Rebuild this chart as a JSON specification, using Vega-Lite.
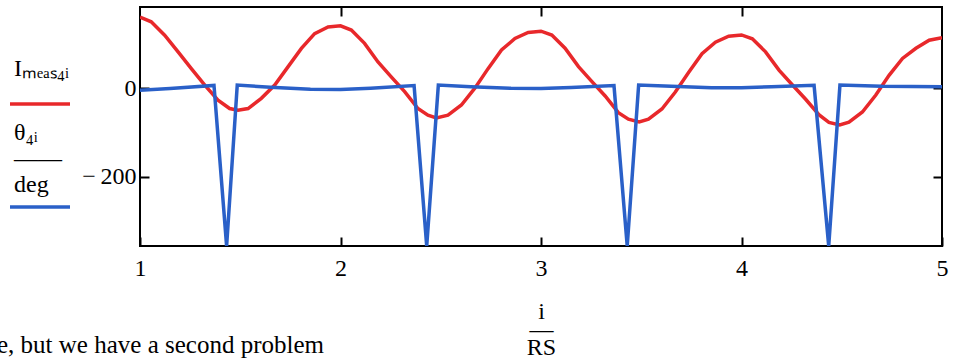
{
  "$schema": "https://vega.github.io/schema/vega-lite/v6.json",
  "width": 802,
  "height": 239,
  "autosize": {"type": "none"},
  "padding": {"left": 140, "top": 7, "right": 11, "bottom": 114},
  "background": "white",
  "config": {
    "view": {"stroke": "black", "strokeWidth": 2},
    "font": "Liberation Serif"
  },
  "title": {
    "text": "e, but we have a second problem",
    "orient": "bottom",
    "anchor": "start",
    "frame": "group",
    "dx": -143,
    "dy": -26,
    "offset": 0,
    "font": "Liberation Serif",
    "fontSize": 25,
    "fontWeight": "normal",
    "color": "black"
  },
  "data": {
    "values": [
      {"x": 1.0, "v": 160, "s": "Imeas4"},
      {"x": 1.056, "v": 149.5, "s": "Imeas4"},
      {"x": 1.123, "v": 119.5, "s": "Imeas4"},
      {"x": 1.19, "v": 82, "s": "Imeas4"},
      {"x": 1.256, "v": 44, "s": "Imeas4"},
      {"x": 1.323, "v": 7, "s": "Imeas4"},
      {"x": 1.389, "v": -27, "s": "Imeas4"},
      {"x": 1.447, "v": -46, "s": "Imeas4"},
      {"x": 1.489, "v": -50, "s": "Imeas4"},
      {"x": 1.539, "v": -46, "s": "Imeas4"},
      {"x": 1.605, "v": -23, "s": "Imeas4"},
      {"x": 1.672, "v": 7, "s": "Imeas4"},
      {"x": 1.738, "v": 48, "s": "Imeas4"},
      {"x": 1.805, "v": 89.5, "s": "Imeas4"},
      {"x": 1.871, "v": 123, "s": "Imeas4"},
      {"x": 1.938, "v": 138, "s": "Imeas4"},
      {"x": 2.0, "v": 140.5, "s": "Imeas4"},
      {"x": 2.054, "v": 131, "s": "Imeas4"},
      {"x": 2.12, "v": 101, "s": "Imeas4"},
      {"x": 2.187, "v": 59, "s": "Imeas4"},
      {"x": 2.253, "v": 25.5, "s": "Imeas4"},
      {"x": 2.32, "v": -8, "s": "Imeas4"},
      {"x": 2.386, "v": -46, "s": "Imeas4"},
      {"x": 2.436, "v": -61, "s": "Imeas4"},
      {"x": 2.478, "v": -67, "s": "Imeas4"},
      {"x": 2.536, "v": -61, "s": "Imeas4"},
      {"x": 2.603, "v": -38, "s": "Imeas4"},
      {"x": 2.67, "v": 0, "s": "Imeas4"},
      {"x": 2.736, "v": 44, "s": "Imeas4"},
      {"x": 2.803, "v": 86, "s": "Imeas4"},
      {"x": 2.87, "v": 112, "s": "Imeas4"},
      {"x": 2.936, "v": 125.5, "s": "Imeas4"},
      {"x": 3.0, "v": 128.5, "s": "Imeas4"},
      {"x": 3.054, "v": 119.7, "s": "Imeas4"},
      {"x": 3.12, "v": 90, "s": "Imeas4"},
      {"x": 3.187, "v": 48.5, "s": "Imeas4"},
      {"x": 3.253, "v": 15.4, "s": "Imeas4"},
      {"x": 3.32, "v": -17.7, "s": "Imeas4"},
      {"x": 3.386, "v": -55.3, "s": "Imeas4"},
      {"x": 3.436, "v": -70, "s": "Imeas4"},
      {"x": 3.49, "v": -76, "s": "Imeas4"},
      {"x": 3.536, "v": -70, "s": "Imeas4"},
      {"x": 3.603, "v": -47, "s": "Imeas4"},
      {"x": 3.67, "v": -8.8, "s": "Imeas4"},
      {"x": 3.736, "v": 35.3, "s": "Imeas4"},
      {"x": 3.803, "v": 77.5, "s": "Imeas4"},
      {"x": 3.87, "v": 103.5, "s": "Imeas4"},
      {"x": 3.936, "v": 117, "s": "Imeas4"},
      {"x": 4.0, "v": 120, "s": "Imeas4"},
      {"x": 4.054, "v": 111.3, "s": "Imeas4"},
      {"x": 4.12, "v": 81.8, "s": "Imeas4"},
      {"x": 4.187, "v": 40.6, "s": "Imeas4"},
      {"x": 4.253, "v": 7.7, "s": "Imeas4"},
      {"x": 4.32, "v": -25.1, "s": "Imeas4"},
      {"x": 4.386, "v": -60, "s": "Imeas4"},
      {"x": 4.436, "v": -77.1, "s": "Imeas4"},
      {"x": 4.49, "v": -83, "s": "Imeas4"},
      {"x": 4.536, "v": -76.9, "s": "Imeas4"},
      {"x": 4.603, "v": -53.8, "s": "Imeas4"},
      {"x": 4.67, "v": -15.4, "s": "Imeas4"},
      {"x": 4.736, "v": 28.9, "s": "Imeas4"},
      {"x": 4.803, "v": 67, "s": "Imeas4"},
      {"x": 4.87, "v": 90, "s": "Imeas4"},
      {"x": 4.936, "v": 108, "s": "Imeas4"},
      {"x": 5.0, "v": 114, "s": "Imeas4"},
      {"x": 1.0, "v": -4.5, "s": "theta4"},
      {"x": 1.15, "v": -1, "s": "theta4"},
      {"x": 1.369, "v": 6, "s": "theta4"},
      {"x": 1.432, "v": -356, "s": "theta4"},
      {"x": 1.485, "v": 7, "s": "theta4"},
      {"x": 1.65, "v": 2, "s": "theta4"},
      {"x": 1.85, "v": -2.5, "s": "theta4"},
      {"x": 2.0, "v": -3, "s": "theta4"},
      {"x": 2.15, "v": 0, "s": "theta4"},
      {"x": 2.367, "v": 6, "s": "theta4"},
      {"x": 2.43, "v": -356, "s": "theta4"},
      {"x": 2.488, "v": 7, "s": "theta4"},
      {"x": 2.65, "v": 3, "s": "theta4"},
      {"x": 2.85, "v": -0.5, "s": "theta4"},
      {"x": 3.0, "v": -1, "s": "theta4"},
      {"x": 3.15, "v": 1.5, "s": "theta4"},
      {"x": 3.364, "v": 6, "s": "theta4"},
      {"x": 3.43, "v": -356, "s": "theta4"},
      {"x": 3.487, "v": 7, "s": "theta4"},
      {"x": 3.65, "v": 4, "s": "theta4"},
      {"x": 3.85, "v": 1, "s": "theta4"},
      {"x": 4.0, "v": 1, "s": "theta4"},
      {"x": 4.15, "v": 3, "s": "theta4"},
      {"x": 4.362, "v": 6.5, "s": "theta4"},
      {"x": 4.435, "v": -356, "s": "theta4"},
      {"x": 4.491, "v": 7, "s": "theta4"},
      {"x": 4.7, "v": 4, "s": "theta4"},
      {"x": 5.0, "v": 3, "s": "theta4"}
    ]
  },
  "layer": [
    {
      "transform": [{"filter": "datum.s == 'Imeas4'"}],
      "mark": {"type": "line", "strokeWidth": 3.5, "clip": true},
      "encoding": {
        "x": {
          "field": "x", "type": "quantitative",
          "scale": {"domain": [1, 5], "nice": false, "zero": false},
          "axis": {
            "orient": "bottom",
            "values": [1, 2, 3, 4, 5],
            "domain": false, "grid": false,
            "tickSize": -9, "tickColor": "black", "tickWidth": 2,
            "labelFont": "Liberation Serif", "labelFontSize": 24, "labelColor": "black",
            "labelPadding": 19, "labelFlush": false, "labelOverlap": false,
            "title": ["i", "―", "RS"],
            "titleFont": "Liberation Serif", "titleFontSize": 24, "titleFontWeight": "normal",
            "titleColor": "black", "titleLineHeight": 18, "titlePadding": 19
          }
        },
        "y": {
          "field": "v", "type": "quantitative",
          "scale": {"domain": [-356, 183], "nice": false, "zero": false},
          "axis": {
            "orient": "left",
            "values": [0, -200],
            "domain": false, "grid": false,
            "tickSize": -9, "tickColor": "black", "tickWidth": 2,
            "labelFont": "Liberation Serif", "labelFontSize": 24, "labelColor": "black",
            "labelPadding": 13, "labelFlush": false, "labelOverlap": false,
            "labelExpr": "datum.value < 0 ? '−\u2009' + abs(datum.value) : datum.label",
            "title": null
          }
        },
        "color": {
          "field": "s", "type": "nominal",
          "scale": {"domain": ["Imeas4", "theta4"], "range": ["#e8282b", "#2a60c8"]},
          "legend": {
            "orient": "none",
            "legendX": -132,
            "legendY": 65,
            "title": null,
            "symbolType": "stroke",
            "symbolSize": 3600,
            "symbolStrokeWidth": 3.5,
            "labelFont": "Liberation Serif",
            "labelFontSize": 24,
            "labelColor": "black",
            "labelBaseline": "bottom",
            "labelOffset": -58,
            "rowPadding": 10,
            "labelExpr": "datum.value == 'Imeas4' ? 'Iₘₑₐₛ₄ᵢ' : ['θ₄ᵢ', '――', 'deg']",
            "encode": {
              "labels": {
                "update": {
                  "dy": {"signal": "datum.value == 'Imeas4' ? -23 : -62"}
                }
              }
            }
          }
        }
      }
    },
    {
      "transform": [{"filter": "datum.s == 'theta4'"}],
      "mark": {"type": "line", "strokeWidth": 3.5, "clip": true},
      "encoding": {
        "x": {
          "field": "x", "type": "quantitative",
          "axis": {
            "orient": "top",
            "values": [2, 3, 4],
            "domain": false, "grid": false, "labels": false,
            "tickSize": -9, "tickColor": "black", "tickWidth": 2,
            "title": null
          }
        },
        "y": {
          "field": "v", "type": "quantitative",
          "axis": {
            "orient": "right",
            "values": [0, -200],
            "domain": false, "grid": false, "labels": false,
            "tickSize": -9, "tickColor": "black", "tickWidth": 2,
            "title": null
          }
        },
        "color": {"field": "s", "type": "nominal"}
      }
    }
  ]
}
